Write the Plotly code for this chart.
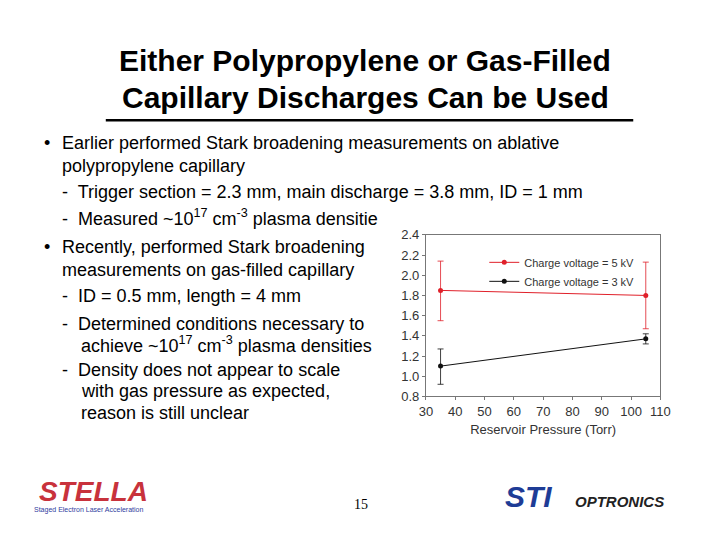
import plotly.graph_objects as go

pressure = [35, 105]
d5 = [1.85, 1.80]
d5_hi = [2.14, 2.13]
d5_lo = [1.55, 1.47]
d3 = [1.10, 1.37]
d3_hi = [1.27, 1.42]
d3_lo = [0.92, 1.32]

W, H = 720, 540
def X(px): return (px - 17.8) / 0.970
def Y(py): return (py - 14.5) / 0.975

fig = go.Figure()
for name, y, hi, lo, col in [("Charge voltage = 5 kV", d5, d5_hi, d5_lo, "#e0202a"),
                             ("Charge voltage = 3 kV", d3, d3_hi, d3_lo, "#111111")]:
    fig.add_trace(go.Scatter(x=pressure, y=y, name=name, mode="lines+markers",
        line=dict(color=col, width=1), marker=dict(color=col, size=5),
        error_y=dict(type="data", symmetric=False,
                     array=[h - v for h, v in zip(hi, y)],
                     arrayminus=[v - l for l, v in zip(lo, y)],
                     color=col, thickness=0.8, width=3)))

ax = dict(showline=True, mirror=True, linecolor="#777", linewidth=1, ticks="outside",
          ticklen=3, tickcolor="#777", showgrid=False, zeroline=False,
          tickfont=dict(family="Arial, Liberation Sans", size=13, color="#333"))
fig.update_xaxes(**ax, range=[30, 110], dtick=10, domain=[X(426)/W, X(659)/W],
                 title=dict(text="Reservoir Pressure (Torr)", standoff=6,
                            font=dict(family="Arial, Liberation Sans", size=13, color="#333")))
fig.update_yaxes(**ax, range=[0.8, 2.4], dtick=0.2, tickformat=".1f",
                 domain=[1 - Y(397)/H, 1 - Y(235)/H])

ann = []
def t(x, y, s, size=18, **kw):
    ann.append(dict(x=X(x)/W, y=1 - Y(y)/H, xref="paper", yref="paper", text=s, showarrow=False,
                    xanchor=kw.pop("xanchor", "left"), yanchor="middle",
                    font=dict(family=kw.pop("family", "Arial, Liberation Sans"), size=size,
                              color=kw.pop("color", "black")), **kw))

t(366, 60, "<b>Either Polypropylene or Gas-Filled</b>", 30, xanchor="center")
t(366, 97, "<b>Capillary Discharges Can be Used</b>", 30, xanchor="center")
sup = "<sup>17</sup>"
lines = [
    (45, 143, "•"), (63, 143, "Earlier performed Stark broadening measurements on ablative"),
    (63, 166, "polypropylene capillary"),
    (63, 192, "-  Trigger section = 2.3 mm, main discharge = 3.8 mm, ID = 1 mm"),
    (63, 218, "-  Measured ~10" + sup + " cm<sup>-3</sup> plasma densitie"),
    (45, 247, "•"), (63, 247, "Recently, performed Stark broadening"),
    (63, 270, "measurements on gas-filled capillary"),
    (63, 296, "-  ID = 0.5 mm, length = 4 mm"),
    (63, 324, "-  Determined conditions necessary to"),
    (81, 345, "achieve ~10" + sup + " cm<sup>-3</sup> plasma densities"),
    (63, 371, "-  Density does not appear to scale"),
    (81, 392, "with gas pressure as expected,"),
    (81, 414, "reason is still unclear"),
]
for x, y, s in lines:
    t(x, y, s, 18)
t(362, 505, "15", 14, xanchor="center", family="Liberation Serif, Times New Roman")
t(40, 492, "<b><i>STELLA</i></b>", 28, color="#c8323c")
t(35, 511, "Staged Electron Laser Acceleration", 7, color="#3040a0")
t(503, 497, "<b><i>STI</i></b>", 30, color="#1e3c96")
t(572, 502, "<b><i>OPTRONICS</i></b>", 15, color="#222")

fig.update_layout(width=W, height=H, margin=dict(l=0, r=0, t=0, b=0),
    paper_bgcolor="white", plot_bgcolor="white", annotations=ann,
    legend=dict(x=X(484)/W, y=1 - Y(248)/H, xanchor="left", yanchor="top", bgcolor="rgba(0,0,0,0)",
                font=dict(family="Arial, Liberation Sans", size=11, color="#333"),
                tracegroupgap=0, itemwidth=30),
    shapes=[dict(type="line", xref="paper", yref="paper", x0=X(108)/W, x1=X(632)/W,
                 y0=1 - Y(120)/H, y1=1 - Y(120)/H, line=dict(color="black", width=2.5))])
fig.write_html("out.html")
